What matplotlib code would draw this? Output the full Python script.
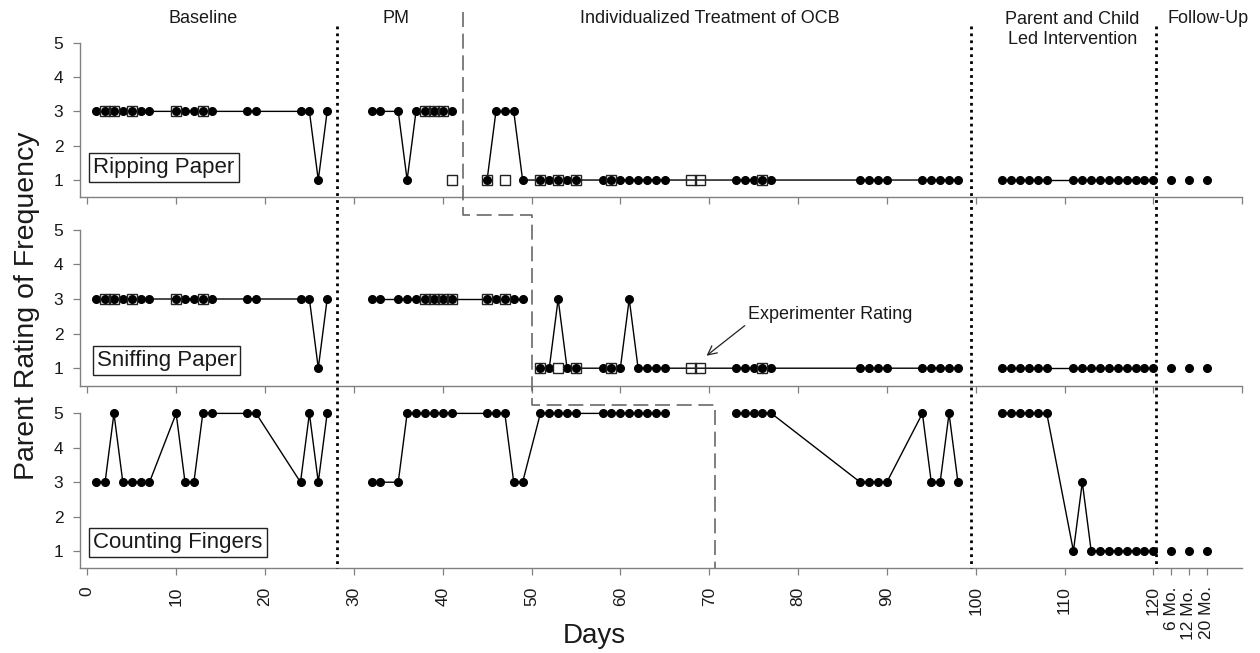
import matplotlib
matplotlib.use('Agg')
import matplotlib.pyplot as plt

plt.rcParams['font.family'] = ['Liberation Sans', 'DejaVu Sans']

# ---------------- data ----------------
baseline_days = [1, 2, 3, 4, 5, 6, 7, 10, 11, 12, 13, 14, 18, 19, 24, 25, 26, 27]
ripping_baseline = [3, 3, 3, 3, 3, 3, 3, 3, 3, 3, 3, 3, 3, 3, 3, 3, 1, 3]
sniffing_baseline = [3, 3, 3, 3, 3, 3, 3, 3, 3, 3, 3, 3, 3, 3, 3, 3, 1, 3]
counting_baseline = [3, 3, 5, 3, 3, 3, 3, 5, 3, 3, 5, 5, 5, 5, 3, 5, 3, 5]

ripping_pm_days = [32, 33, 35, 36, 37, 38, 39, 40, 41]
ripping_pm = [3, 3, 3, 1, 3, 3, 3, 3, 3]
sniffing_pm_days = [32, 33, 35, 36, 37, 38, 39, 40, 41, 45, 46, 47, 48, 49]
sniffing_pm = [3, 3, 3, 3, 3, 3, 3, 3, 3, 3, 3, 3, 3, 3]
counting_pm_days = [32, 33, 35, 36, 37, 38, 39, 40, 41, 45, 46, 47, 48, 49,
                    51, 52, 53, 54, 55, 58, 59, 60, 61, 62, 63, 64, 65]
counting_pm = [3, 3, 3, 5, 5, 5, 5, 5, 5, 5, 5, 5, 3, 3,
               5, 5, 5, 5, 5, 5, 5, 5, 5, 5, 5, 5, 5]

ripping_tx_days = [45, 46, 47, 48, 49, 51, 52, 53, 54, 55, 58, 59, 60, 61, 62, 63, 64, 65,
                   73, 74, 75, 76, 77, 87, 88, 89, 90, 94, 95, 96, 97, 98]
ripping_tx = [1, 3, 3, 3, 1, 1, 1, 1, 1, 1, 1, 1, 1, 1, 1, 1, 1, 1,
              1, 1, 1, 1, 1, 1, 1, 1, 1, 1, 1, 1, 1, 1]
sniffing_tx_days = [51, 52, 53, 54, 55, 58, 59, 60, 61, 62, 63, 64, 65,
                    73, 74, 75, 76, 77, 87, 88, 89, 90, 94, 95, 96, 97, 98]
sniffing_tx = [1, 1, 3, 1, 1, 1, 1, 1, 3, 1, 1, 1, 1,
               1, 1, 1, 1, 1, 1, 1, 1, 1, 1, 1, 1, 1, 1]
counting_tx_days = [73, 74, 75, 76, 77, 87, 88, 89, 90, 94, 95, 96, 97, 98]
counting_tx = [5, 5, 5, 5, 5, 3, 3, 3, 3, 5, 3, 3, 5, 3]

pc_days = [103, 104, 105, 106, 107, 108, 111, 112, 113, 114, 115, 116, 117, 118, 119, 120]
ripping_pc = [1, 1, 1, 1, 1, 1, 1, 1, 1, 1, 1, 1, 1, 1, 1, 1]
sniffing_pc = [1, 1, 1, 1, 1, 1, 1, 1, 1, 1, 1, 1, 1, 1, 1, 1]
counting_pc = [5, 5, 5, 5, 5, 5, 1, 3, 1, 1, 1, 1, 1, 1, 1, 1]

followup_days = [122, 124, 126]
ripping_fu = [1, 1, 1]
sniffing_fu = [1, 1, 1]
counting_fu = [1, 1, 1]

exp_days = [2, 3, 5, 10, 13, 38, 39, 40, 41, 45, 47, 51, 53, 55, 59, 68, 69, 76]
ripping_exp = [3, 3, 3, 3, 3, 3, 3, 3, 1, 1, 1, 1, 1, 1, 1, 1, 1, 1]
sniffing_exp = [3, 3, 3, 3, 3, 3, 3, 3, 3, 3, 3, 1, 1, 1, 1, 1, 1, 1]

panel_names = ['Ripping Paper', 'Sniffing Paper', 'Counting Fingers']

phase_titles = ['Baseline', 'PM', 'Individualized Treatment of OCB',
                'Parent and Child\nLed Intervention', 'Follow-Up']
phase_title_days = [13.0, 34.8, 70.1, 110.9, 126.1]
phase_change_days = [28.1, 99.5, 120.3]
stagger_days = [42.3, 50.0, 70.6]

xtick_pos = [0, 10, 20, 30, 40, 50, 60, 70, 80, 90, 100, 110, 120, 122, 124, 126]
xtick_labels = ['0', '10', '20', '30', '40', '50', '60', '70', '80', '90', '100',
                '110', '120', '6 Mo.', '12 Mo.', '20 Mo.']
upper_xticks = [0, 10, 20, 30, 40, 50, 60, 70, 80, 90, 100, 110, 120, 130]

# ---------------- layout ----------------
W, H = 1260, 653
X0PX, PXD = 87.3, 8.884
left_px, right_px = 80, 1250
xlim = ((left_px - X0PX) / PXD, (right_px - X0PX) / PXD)
panel_px = [(0, 197.2, 34.33), (197.2, 385.5, 34.6), (385.5, 568.2, 34.4)]

fig = plt.figure(figsize=(12.6, 6.53), dpi=100)
AX_COL = '#808080'
TXT_COL = '#1a1a1a'

axes = []
for i, (top, bot, unit) in enumerate(panel_px):
    ax = fig.add_axes([left_px / W, 1 - bot / H, (right_px - left_px) / W, (bot - top) / H])
    ax.set_xlim(*xlim)
    ax.set_ylim(0.5, 0.5 + (bot - top) / unit)
    ax.patch.set_alpha(0)
    for s in ['top', 'right']:
        ax.spines[s].set_visible(False)
    for s in ['left', 'bottom']:
        ax.spines[s].set_color(AX_COL)
        ax.spines[s].set_linewidth(1.0)
    ax.spines['left'].set_bounds(0.5, 5)
    ax.spines['bottom'].set_bounds(xlim[0], 130)
    ax.set_yticks([1, 2, 3, 4, 5])
    ax.tick_params(axis='y', direction='out', length=5, width=0.9, color=AX_COL,
                   labelsize=12.5, labelcolor=TXT_COL, pad=7)
    ax.tick_params(axis='x', direction='out', length=5, width=0.9, color=AX_COL,
                   labelsize=12.5, labelcolor=TXT_COL, pad=8)
    if i < 2:
        ax.set_xticks(upper_xticks)
        ax.set_xticklabels([])
    else:
        ax.set_xticks(xtick_pos)
        ax.set_xticklabels(xtick_labels, rotation=90)
    axes.append(ax)

line_kw = dict(color='black', lw=1.0, marker='o', ms=5.5, mfc='black', mec='black', zorder=3)
pt_kw = dict(color='black', ls='none', marker='o', ms=5.5, mfc='black', mec='black', zorder=3)
sq_kw = dict(ls='none', marker='s', ms=7.5, mfc='none', mec='#222222', mew=1.0, zorder=4)

panels = [
    [(baseline_days, ripping_baseline), (ripping_pm_days, ripping_pm),
     (ripping_tx_days, ripping_tx), (pc_days, ripping_pc)],
    [(baseline_days, sniffing_baseline), (sniffing_pm_days, sniffing_pm),
     (sniffing_tx_days, sniffing_tx), (pc_days, sniffing_pc)],
    [(baseline_days, counting_baseline), (counting_pm_days, counting_pm),
     (counting_tx_days, counting_tx), (pc_days, counting_pc)],
]
followups = [ripping_fu, sniffing_fu, counting_fu]
exps = [ripping_exp, sniffing_exp, None]

for ax, segs, fu, ex in zip(axes, panels, followups, exps):
    for d, v in segs:
        ax.plot(d, v, **line_kw)
    ax.plot(followup_days, fu, **pt_kw)
    if ex is not None:
        ax.plot(exp_days, ex, **sq_kw)

# panel name boxes
label_pos = [(0.68, 1.36), (1.06, 1.23), (0.68, 1.25)]
for ax, name, (lx, ly) in zip(axes, panel_names, label_pos):
    ax.text(lx, ly, name, fontsize=16, ha='left', va='center', color=TXT_COL, zorder=5,
            bbox=dict(boxstyle='square,pad=0.18', fc='white', ec='#222222', lw=1.0))

# experimenter rating annotation
axes[1].annotate('', xy=(69.7, 1.36), xytext=(74.0, 2.23),
                 arrowprops=dict(arrowstyle='->', color='#222222', lw=0.9,
                                 mutation_scale=16, shrinkA=0, shrinkB=0))
axes[1].text(74.4, 2.54, 'Experimenter Rating', fontsize=13, ha='left', va='center',
             color=TXT_COL)

# overlay for phase lines and titles (x: days, y: pixels from top)
ov = fig.add_axes([left_px / W, 0, (right_px - left_px) / W, 1])
ov.set_xlim(*xlim)
ov.set_ylim(H, 0)
ov.axis('off')
ov.patch.set_alpha(0)

for d in phase_change_days:
    ov.plot([d, d], [26, 568.2], color='black', lw=2.0, linestyle=(0, (1, 1.5)),
            dash_capstyle='butt')

s0, s1, s2 = stagger_days
ov.plot([s0, s0, s1, s1, s2, s2], [12, 215, 215, 405, 405, 568.2], color='#6a6a6a', lw=1.2,
        linestyle=(0, (9, 4)), dash_capstyle='butt')

for t, d in zip(phase_titles, phase_title_days):
    ov.text(d, 29.5 if '\n' in t else 18.8, t, fontsize=13, ha='center', va='center',
            color=TXT_COL, linespacing=1.2)

fig.text(27 / W, 1 - 306 / H, 'Parent Rating of Frequency', rotation=90, fontsize=20.5,
         ha='center', va='center', color=TXT_COL)
fig.text(594 / W, 1 - 636 / H, 'Days', fontsize=20, ha='center', va='center', color=TXT_COL)

fig.savefig('out.png', dpi=100)
